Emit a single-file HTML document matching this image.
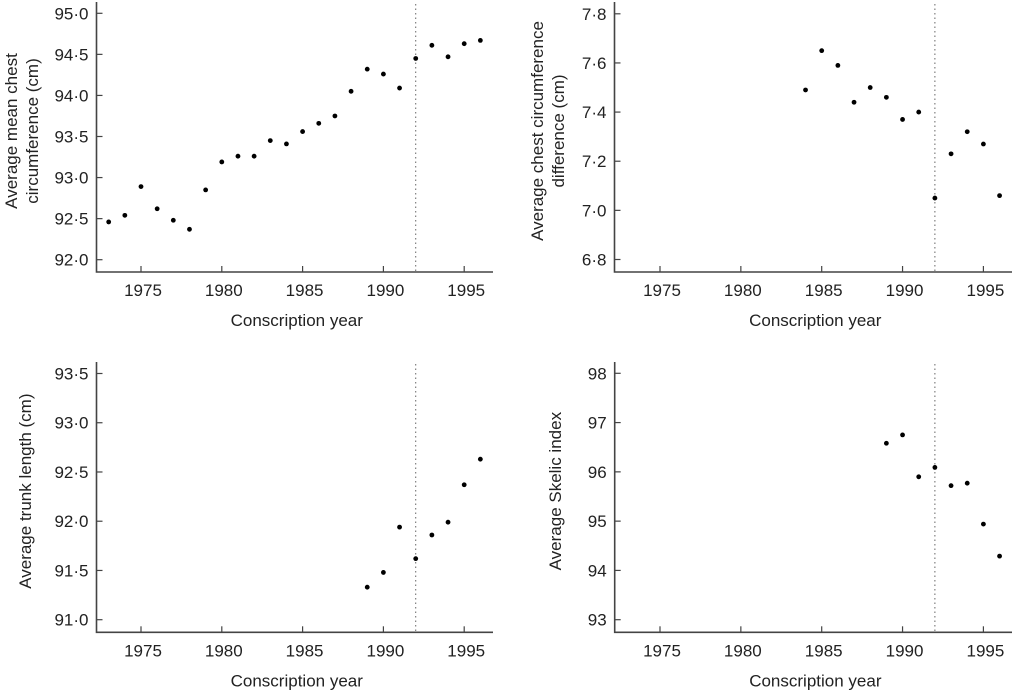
<!DOCTYPE html>
<html><head><meta charset="utf-8"><style>
html,body{margin:0;padding:0;background:#fff;}
svg{display:block;font-family:"Liberation Sans",sans-serif;}
</style></head><body>
<svg id="c" width="1012" height="690" viewBox="0 0 1012 690"></svg>
<script>
const years = [1973,1974,1975,1976,1977,1978,1979,1980,1981,1982,1983,1984,1985,1986,1987,1988,1989,1990,1991,1992,1993,1994,1995,1996];
const chestMean = [92.46,92.54,92.89,92.62,92.48,92.37,92.85,93.19,93.26,93.26,93.45,93.41,93.56,93.66,93.75,94.05,94.32,94.26,94.09,94.45,94.61,94.47,94.63,94.67];
const diffYears = [1984,1985,1986,1987,1988,1989,1990,1991,1992,1993,1994,1995,1996];
const chestDiff = [7.49,7.65,7.59,7.44,7.50,7.46,7.37,7.40,7.05,7.23,7.32,7.27,7.06];
const trunkYears = [1989,1990,1991,1992,1993,1994,1995,1996];
const trunkLen = [91.33,91.48,91.94,91.62,91.86,91.99,92.37,92.63];
const skelic = [96.58,96.75,95.90,96.09,95.72,95.77,94.94,94.29];
const xTicks = [1975,1980,1985,1990,1995];
const ticksTL = [92.0,92.5,93.0,93.5,94.0,94.5,95.0];
const ticksTR = [6.8,7.0,7.2,7.4,7.6,7.8];
const ticksBL = [91.0,91.5,92.0,92.5,93.0,93.5];
const ticksBR = [93,94,95,96,97,98];
const cutYear = 1992;

const NS='http://www.w3.org/2000/svg';
const svg=document.getElementById('c');
function mk(tag,attrs,parent){const e=document.createElementNS(NS,tag);for(const k in attrs)e.setAttribute(k,attrs[k]);(parent||svg).appendChild(e);return e;}

function panel(o){
  const g=mk('g',{});
  
  
  const xS=v=>o.x0+(v-1975)*o.pxYr;
  const yS=v=>o.yTopPx+(o.yTop-v)/(o.yTop-o.yBot)*(o.yBotPx-o.yTopPx);
  const ax=mk('path',{d:`M${o.axX} ${o.axTop} V${o.axY} H${o.axRight}`,stroke:'#444',fill:'none','stroke-width':1.6},g);
  
  
  o.yTicks.forEach(t=>{
    const y=yS(t);
    mk('line',{x1:o.axX,x2:o.axX+6,y1:y,y2:y,stroke:'#444','stroke-width':1.2},g);
    const tx=mk('text',{x:o.axX-8,y:y+6,'text-anchor':'end','font-size':17,fill:'#222'},g);
    tx.textContent=o.fmt(t);
    
    
  });
  xTicks.forEach(t=>{
    const x=xS(t);
    mk('line',{x1:x,x2:x,y1:o.axY,y2:o.axY-6,stroke:'#444','stroke-width':1.2},g);
    const tx=mk('text',{x:x+2,y:o.axY+24,'text-anchor':'middle','font-size':17,fill:'#222'},g);
    tx.textContent=t;
    
    
  });
  const dl=mk('line',{x1:xS(cutYear),x2:xS(cutYear),y1:o.axTop+2,y2:o.axY,stroke:'#666','stroke-width':1,'stroke-dasharray':'1.5,3'},g);
  
  
  o.xs.forEach((yr,i)=>{
    const c=mk('circle',{cx:xS(yr),cy:yS(o.vals[i]),r:2.4,fill:'#000'},g);
    
    
  });
  const xt=mk('text',{x:(o.axX+o.axRight)/2+2,y:o.axY+54,'text-anchor':'middle','font-size':17,fill:'#222'},g);
  xt.textContent='Conscription year';
  
  
  const cy=(o.axTop+o.axY)/2-6;
  const yt=mk('text',{transform:`translate(${o.titleX},${cy}) rotate(-90)`,'text-anchor':'middle','font-size':17,fill:'#222'},g);
  
  
  o.title.forEach((line,i)=>{const ts=mk('tspan',{x:0,dy:i?21:0},yt);ts.textContent=line;});
}
const f1=v=>v.toFixed(1).replace('.','\u00b7');
panel({name:'panel-mean-chest',x0:141,pxYr:16.16,yTop:95,yBot:92,yTopPx:13.3,yBotPx:259.7,axX:96.5,axTop:2,axY:272,axRight:493,xs:years,vals:chestMean,yTicks:ticksTL,fmt:f1,titleX:17,title:['Average mean chest','circumference (cm)']});
panel({name:'panel-chest-difference',x0:660,pxYr:16.17,yTop:7.8,yBot:6.8,yTopPx:13.8,yBotPx:259.5,axX:614.5,axTop:2,axY:272,axRight:1012,xs:diffYears,vals:chestDiff,yTicks:ticksTR,fmt:v=>v.toFixed(1).replace('.','\u00b7'),titleX:543,title:['Average chest circumference','difference (cm)']});
panel({name:'panel-trunk-length',x0:141,pxYr:16.16,yTop:93.5,yBot:91,yTopPx:373.5,yBotPx:619.7,axX:96.5,axTop:362,axY:632.3,axRight:493,xs:trunkYears,vals:trunkLen,yTicks:ticksBL,fmt:f1,titleX:31,title:['Average trunk length (cm)']});
panel({name:'panel-skelic-index',x0:660,pxYr:16.17,yTop:98,yBot:93,yTopPx:373.3,yBotPx:619.7,axX:614.7,axTop:362,axY:632.3,axRight:1012,xs:trunkYears,vals:skelic,yTicks:ticksBR,fmt:v=>String(v),titleX:561,title:['Average Skelic index']});
</script>
</body></html>
